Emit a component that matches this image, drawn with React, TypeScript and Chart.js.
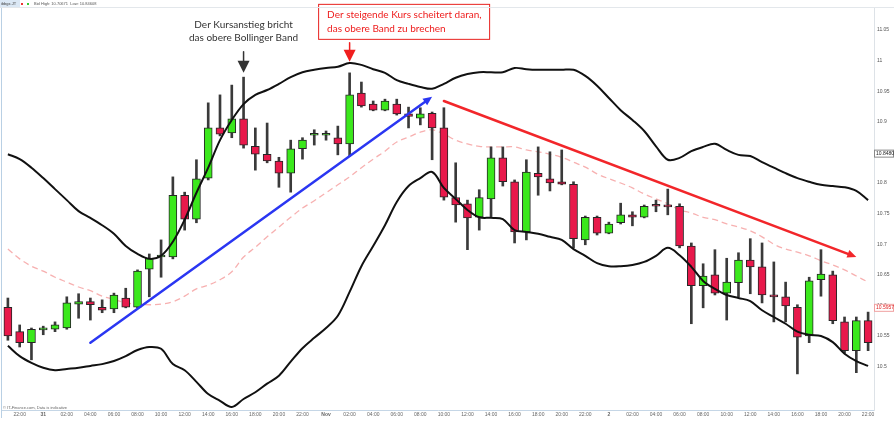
import React, { useEffect, useRef } from "react";
import { Chart, registerables } from "chart.js";
Chart.register(...registerables);

// ---- categories (hourly candles) ----
const TIMES = [
  "21:00", "22:00", "23:00", "31", "01:00", "02:00", "03:00", "04:00", "05:00", "06:00",
  "07:00", "08:00", "09:00", "10:00", "11:00", "12:00", "13:00", "14:00", "15:00", "16:00",
  "17:00", "18:00", "19:00", "20:00", "21:00", "22:00", "23:00", "Nov", "01:00", "02:00",
  "03:00", "04:00", "05:00", "06:00", "07:00", "08:00", "09:00", "10:00", "11:00", "12:00",
  "13:00", "14:00", "15:00", "16:00", "17:00", "18:00", "19:00", "20:00", "21:00", "22:00",
  "23:00", "2", "01:00", "02:00", "03:00", "04:00", "05:00", "06:00", "07:00", "08:00",
  "09:00", "10:00", "11:00", "12:00", "13:00", "14:00", "15:00", "16:00", "17:00", "18:00",
  "19:00", "20:00", "21:00", "22:00",
];
const DAY_LABELS = ["31", "Nov", "2"];

// ---- OHLC ----
const OPEN = [
  10.597, 10.557, 10.539, 10.560, 10.561, 10.563, 10.602, 10.606, 10.597, 10.594,
  10.612, 10.597, 10.659, 10.679, 10.679, 10.780, 10.741, 10.808, 10.890, 10.882,
  10.905, 10.860, 10.847, 10.836, 10.816, 10.856, 10.878, 10.878, 10.874, 10.864,
  10.947, 10.929, 10.919, 10.929, 10.913, 10.906, 10.914, 10.890, 10.776, 10.766,
  10.744, 10.774, 10.841, 10.802, 10.720, 10.816, 10.807, 10.802, 10.798, 10.707,
  10.744, 10.718, 10.735, 10.748, 10.744, 10.764, 10.762, 10.762, 10.697, 10.632,
  10.650, 10.620, 10.637, 10.674, 10.663, 10.617, 10.614, 10.597, 10.550, 10.642,
  10.650, 10.573, 10.526, 10.575,
];
const HIGH = [
  10.612, 10.568, 10.563, 10.566, 10.573, 10.614, 10.619, 10.612, 10.609, 10.620,
  10.628, 10.658, 10.684, 10.707, 10.810, 10.785, 10.838, 10.931, 10.944, 10.960,
  10.973, 10.890, 10.898, 10.842, 10.870, 10.874, 10.887, 10.885, 10.893, 10.980,
  10.965, 10.934, 10.937, 10.937, 10.924, 10.923, 10.916, 10.923, 10.833, 10.772,
  10.789, 10.859, 10.859, 10.805, 10.838, 10.859, 10.851, 10.854, 10.802, 10.746,
  10.746, 10.736, 10.767, 10.753, 10.764, 10.772, 10.790, 10.766, 10.702, 10.668,
  10.691, 10.677, 10.686, 10.709, 10.702, 10.671, 10.638, 10.601, 10.646, 10.691,
  10.656, 10.581, 10.581, 10.589,
];
const LOW = [
  10.543, 10.532, 10.511, 10.552, 10.557, 10.561, 10.579, 10.576, 10.588, 10.588,
  10.596, 10.596, 10.614, 10.646, 10.676, 10.723, 10.735, 10.805, 10.877, 10.874,
  10.857, 10.821, 10.833, 10.793, 10.785, 10.839, 10.862, 10.870, 10.846, 10.844,
  10.924, 10.918, 10.918, 10.911, 10.890, 10.895, 10.838, 10.772, 10.736, 10.691,
  10.723, 10.744, 10.795, 10.702, 10.707, 10.780, 10.787, 10.797, 10.694, 10.699,
  10.715, 10.717, 10.733, 10.730, 10.743, 10.753, 10.748, 10.694, 10.570, 10.596,
  10.617, 10.576, 10.614, 10.619, 10.604, 10.573, 10.573, 10.488, 10.539, 10.615,
  10.570, 10.522, 10.490, 10.526,
];
const CLOSE = [
  10.550, 10.539, 10.561, 10.561, 10.568, 10.604, 10.606, 10.601, 10.592, 10.617,
  10.597, 10.656, 10.677, 10.682, 10.780, 10.741, 10.807, 10.890, 10.880, 10.905,
  10.862, 10.847, 10.836, 10.816, 10.856, 10.870, 10.880, 10.880, 10.864, 10.944,
  10.926, 10.919, 10.934, 10.913, 10.909, 10.913, 10.890, 10.777, 10.764, 10.743,
  10.776, 10.841, 10.802, 10.720, 10.818, 10.810, 10.800, 10.798, 10.709, 10.744,
  10.718, 10.733, 10.748, 10.744, 10.762, 10.762, 10.761, 10.697, 10.632, 10.648,
  10.620, 10.638, 10.674, 10.663, 10.617, 10.614, 10.599, 10.548, 10.640, 10.651,
  10.575, 10.526, 10.575, 10.539,
];

// ---- Bollinger bands ----
const UPPER = [
  10.847, 10.839, 10.825, 10.808, 10.790, 10.772, 10.754, 10.743, 10.731, 10.717,
  10.697, 10.684, 10.676, 10.681, 10.704, 10.740, 10.784, 10.825, 10.870, 10.903,
  10.929, 10.944, 10.952, 10.962, 10.973, 10.981, 10.985, 10.988, 10.990, 10.996,
  10.993, 10.986, 10.980, 10.968, 10.962, 10.957, 10.954, 10.962, 10.972, 10.978,
  10.981, 10.981, 10.981, 10.988, 10.986, 10.985, 10.985, 10.985, 10.985, 10.975,
  10.959, 10.939, 10.919, 10.903, 10.885, 10.860, 10.838, 10.841, 10.852, 10.859,
  10.864, 10.854, 10.846, 10.844, 10.834, 10.825, 10.816, 10.808, 10.802, 10.797,
  10.795, 10.793, 10.787, 10.772,
];
const MIDDLE = [
  10.692, 10.676, 10.664, 10.656, 10.646, 10.638, 10.630, 10.624, 10.615, 10.610,
  10.604, 10.602, 10.601, 10.602, 10.606, 10.615, 10.627, 10.633, 10.642, 10.655,
  10.679, 10.695, 10.712, 10.728, 10.744, 10.759, 10.771, 10.784, 10.797, 10.810,
  10.825, 10.839, 10.852, 10.867, 10.875, 10.883, 10.887, 10.880, 10.870, 10.864,
  10.860, 10.859, 10.859, 10.859, 10.854, 10.851, 10.847, 10.842, 10.834, 10.826,
  10.815, 10.807, 10.800, 10.792, 10.782, 10.774, 10.766, 10.756, 10.751, 10.744,
  10.740, 10.733, 10.728, 10.722, 10.712, 10.700, 10.692, 10.687, 10.681, 10.673,
  10.666, 10.658, 10.648, 10.638,
];
const LOWER = [
  10.534, 10.517, 10.506, 10.498, 10.494, 10.496, 10.498, 10.501, 10.504, 10.509,
  10.517, 10.527, 10.532, 10.529, 10.504, 10.494, 10.475, 10.455, 10.444, 10.434,
  10.447, 10.458, 10.472, 10.485, 10.508, 10.530, 10.547, 10.563, 10.583, 10.622,
  10.664, 10.697, 10.731, 10.769, 10.795, 10.808, 10.818, 10.792, 10.774, 10.756,
  10.744, 10.743, 10.741, 10.723, 10.720, 10.717, 10.712, 10.707, 10.692, 10.681,
  10.669, 10.664, 10.664, 10.666, 10.671, 10.681, 10.694, 10.682, 10.663, 10.640,
  10.627, 10.617, 10.612, 10.607, 10.592, 10.581, 10.570, 10.557, 10.552, 10.550,
  10.540, 10.521, 10.509, 10.501,
];

// ---- axis ----
const Y_TICKS = [11.05, 11, 10.95, 10.9, 10.85, 10.8, 10.75, 10.7, 10.65, 10.6, 10.55, 10.5];
const Y_TICK_LABELS = ["11.05", "11", "10.95", "10.9", "10.85", "10.8", "10.75", "10.7", "10.65", "10.6", "10.55", "10.5"];
const Y_MIN = 10.429;
const Y_MAX = 11.086;

// ---- annotations (data space) ----
const BLUE_TREND_IDX = [7, 36];
const BLUE_TREND_PRICE = [10.539, 10.941];
const RED_TREND_IDX = [37, 72];
const RED_TREND_PRICE = [10.934, 10.679];
const BREAK_MARK_IDX = 20;
const BREAK_MARK_PRICE = 10.98;
const FAIL_MARK_IDX = 29;
const FAIL_MARK_PRICE = 10.998;
const NOTE_BREAK = ["Der Kursanstieg bricht", "das obere Bollinger Band"];
const NOTE_FAIL = ["Der steigende Kurs scheitert daran,", "das obere Band zu brechen"];
const PRICE_TAGS = [
  { value: 10.848, text: "10.84805", color: "#222", border: "#888" },
  { value: 10.596, text: "10.59574", color: "#e02020", border: "#f0a0a0" },
];
const HEADER_TEXT = "Bid High: 10.70671  Low: 10.84608";
const HEADER_SYMBOL = "ibbgx.JT";
const FOOTER_TEXT = "\u00a9 IT-Finance.com, Data is indicative";

const GREEN = "#3be81c";
const RED = "#e8194b";

function arrowLine(ctx: CanvasRenderingContext2D, x1: number, y1: number, x2: number, y2: number, color: string) {
  const ang = Math.atan2(y2 - y1, x2 - x1);
  const head = 9;
  const hw = 4;
  const bx = x2 - head * Math.cos(ang);
  const by = y2 - head * Math.sin(ang);
  ctx.strokeStyle = color;
  ctx.lineWidth = 2.5;
  ctx.lineCap = "round";
  ctx.beginPath();
  ctx.moveTo(x1, y1);
  ctx.lineTo(bx, by);
  ctx.stroke();
  ctx.fillStyle = color;
  ctx.beginPath();
  ctx.moveTo(x2, y2);
  ctx.lineTo(bx + hw * Math.sin(ang), by - hw * Math.cos(ang));
  ctx.lineTo(bx - hw * Math.sin(ang), by + hw * Math.cos(ang));
  ctx.closePath();
  ctx.fill();
}

function downArrow(ctx: CanvasRenderingContext2D, x: number, tipY: number, color: string, stem: number) {
  ctx.strokeStyle = color;
  ctx.fillStyle = color;
  ctx.lineWidth = 1.5;
  ctx.beginPath();
  ctx.moveTo(x, tipY - 11 - stem);
  ctx.lineTo(x, tipY - 10);
  ctx.stroke();
  ctx.beginPath();
  ctx.moveTo(x - 6, tipY - 12);
  ctx.lineTo(x + 6, tipY - 12);
  ctx.lineTo(x, tipY);
  ctx.closePath();
  ctx.fill();
}

const overlay = {
  id: "overlay",
  afterDatasetsDraw(chart: any) {
    const { ctx, scales } = chart;
    const x = scales.x;
    const y = scales.y;
    ctx.save();
    arrowLine(
      ctx,
      x.getPixelForValue(BLUE_TREND_IDX[0]), y.getPixelForValue(BLUE_TREND_PRICE[0]),
      x.getPixelForValue(BLUE_TREND_IDX[1]), y.getPixelForValue(BLUE_TREND_PRICE[1]),
      "#2a36f2"
    );
    arrowLine(
      ctx,
      x.getPixelForValue(RED_TREND_IDX[0]), y.getPixelForValue(RED_TREND_PRICE[0]),
      x.getPixelForValue(RED_TREND_IDX[1]), y.getPixelForValue(RED_TREND_PRICE[1]),
      "#f2262a"
    );

    // black marker + note
    const bx = x.getPixelForValue(BREAK_MARK_IDX);
    const by = y.getPixelForValue(BREAK_MARK_PRICE);
    downArrow(ctx, bx, by, "#333", 10);
    ctx.font = '10px Lato';
    ctx.fillStyle = "#333";
    ctx.textAlign = "center";
    ctx.textBaseline = "middle";
    ctx.fillText(NOTE_BREAK[0], bx, by - 48);
    ctx.fillText(NOTE_BREAK[1], bx, by - 35);

    // red marker + boxed note
    const fx = x.getPixelForValue(FAIL_MARK_IDX);
    const fy = y.getPixelForValue(FAIL_MARK_PRICE);
    downArrow(ctx, fx, fy, "#f01e1e", 8);
    const boxL = fx - 31.5;
    const boxT = fy - 58;
    ctx.strokeStyle = "#e8201e";
    ctx.lineWidth = 1;
    ctx.strokeRect(boxL + 0.5, boxT + 0.5, 171, 35);
    ctx.fillStyle = "#ee1c1c";
    ctx.textAlign = "left";
    ctx.fillText(NOTE_FAIL[0], boxL + 9, boxT + 11);
    ctx.fillText(NOTE_FAIL[1], boxL + 9, boxT + 25);
    ctx.restore();
  },
  afterDraw(chart: any) {
    const { ctx, chartArea: a, scales } = chart;
    const y = scales.y;
    ctx.save();
    // frame lines
    ctx.strokeStyle = "#b9d0e4";
    ctx.lineWidth = 1;
    ctx.beginPath();
    ctx.moveTo(a.left - 0.5, a.top);
    ctx.lineTo(a.left - 0.5, a.bottom + 8);
    ctx.stroke();
    ctx.strokeStyle = "#e3e7eb";
    ctx.beginPath();
    ctx.moveTo(0, a.top - 0.5);
    ctx.lineTo(chart.width, a.top - 0.5);
    ctx.stroke();

    // header
    ctx.fillStyle = "#dbe8f5";
    ctx.fillRect(0, 0, 20, a.top - 1);
    ctx.font = "4px 'Liberation Sans'";
    ctx.textBaseline = "middle";
    ctx.textAlign = "left";
    ctx.fillStyle = "#444";
    ctx.fillText(HEADER_SYMBOL, 1, 4);
    ctx.fillStyle = "#e33";
    ctx.fillRect(21, 3, 2, 2);
    ctx.fillStyle = "#3c3";
    ctx.fillRect(27, 3, 2, 2);
    ctx.fillStyle = "#555";
    ctx.fillText(HEADER_TEXT, 34, 4);

    // footer
    ctx.fillStyle = "#666";
    ctx.fillText(FOOTER_TEXT, a.left + 1, a.bottom - 2);

    // price tags on the right axis
    ctx.font = "5px 'Liberation Sans'";
    PRICE_TAGS.forEach((t) => {
      const py = y.getPixelForValue(t.value);
      ctx.fillStyle = "#fff";
      ctx.fillRect(a.right + 0.5, py - 3.5, 19, 7);
      ctx.strokeStyle = t.border;
      ctx.strokeRect(a.right + 0.5, py - 3.5, 19, 7);
      ctx.fillStyle = t.color;
      ctx.fillText(t.text, a.right + 2, py);
    });
    ctx.restore();
  },
};

export default function App() {
  const ref = useRef<HTMLCanvasElement>(null);
  useEffect(() => {
    document.body.style.margin = "0";
    Chart.defaults.font.family = "'Liberation Sans', Arial, sans-serif";
    const bodyColors = OPEN.map((o, i) => (CLOSE[i] >= o ? GREEN : RED));
    const chart = new Chart(ref.current as HTMLCanvasElement, {
      type: "bar",
      data: {
        labels: TIMES,
        datasets: [
          {
            type: "line",
            label: "Upper",
            data: UPPER,
            borderColor: "#111",
            borderWidth: 2,
            pointRadius: 0,
            tension: 0.35,
            order: 0,
          } as any,
          {
            type: "line",
            label: "Lower",
            data: LOWER,
            borderColor: "#111",
            borderWidth: 2,
            pointRadius: 0,
            tension: 0.35,
            order: 0,
          } as any,
          {
            type: "line",
            label: "Middle",
            data: MIDDLE,
            borderColor: "rgba(244,150,150,0.75)",
            borderDash: [6, 4],
            borderWidth: 1.3,
            pointRadius: 0,
            tension: 0.35,
            order: 3,
          } as any,
          {
            type: "bar",
            label: "Wick",
            data: LOW.map((l, i) => [l, HIGH[i]]),
            backgroundColor: "#3a3a3a",
            barThickness: 2,
            grouped: false,
            order: 2,
          } as any,
          {
            type: "bar",
            label: "Body",
            data: OPEN.map((o, i) => [o, CLOSE[i]]),
            backgroundColor: bodyColors,
            borderColor: "#262626",
            borderWidth: 1,
            borderSkipped: false,
            barThickness: 8,
            minBarLength: 2,
            grouped: false,
            order: 1,
          } as any,
        ],
      },
      options: {
        animation: false,
        responsive: true,
        maintainAspectRatio: false,
        layout: { padding: { top: 8, left: 2, right: 0, bottom: 0 } },
        plugins: { legend: { display: false }, tooltip: { enabled: false } },
        scales: {
          x: {
            type: "category",
            offset: true,
            grid: { display: false, drawTicks: false },
            border: { display: true, color: "#c5d6e6" },
            ticks: {
              autoSkip: false,
              maxRotation: 0,
              minRotation: 0,
              padding: 2,
              color: "#666",
              font: (c: any) => ({
                size: 5,
                weight: DAY_LABELS.includes(TIMES[c.index]) ? "bold" : "normal",
              }),
              callback: (_v: any, i: number) => (i % 2 === 1 ? TIMES[i] : ""),
            },
            afterFit: (s: any) => {
              s.height = 30;
            },
          },
          y: {
            type: "linear",
            position: "right",
            min: Y_MIN,
            max: Y_MAX,
            grid: { display: false, drawTicks: false },
            border: { display: true, color: "#dde2e7" },
            ticks: {
              padding: 3,
              color: "#555",
              font: { size: 5 },
              callback: (v: any) => {
                const k = Y_TICKS.findIndex((t) => Math.abs(t - v) < 1e-6);
                return k >= 0 ? Y_TICK_LABELS[k] : "";
              },
            },
            afterBuildTicks: (axis: any) => {
              axis.ticks = Y_TICKS.map((v) => ({ value: v }));
            },
            afterFit: (s: any) => {
              s.width = 20;
            },
          },
        },
      },
      plugins: [overlay],
    } as any);
    return () => chart.destroy();
  }, []);
  return (
    <div style={{ width: 894, height: 440, position: "relative", background: "#fff" }}>
      <canvas ref={ref} />
    </div>
  );
}
